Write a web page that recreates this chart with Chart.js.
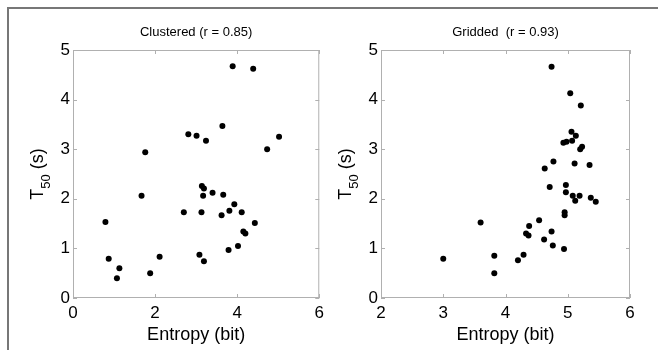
<!DOCTYPE html>
<html>
<head>
<meta charset="utf-8">
<script src="https://cdn.jsdelivr.net/npm/chart.js@4/dist/chart.umd.min.js"></script>
<style>
body { margin: 0; background: #fff; }
#wrap { position: relative; width: 658px; height: 350px; overflow: hidden; }
#frame { position: absolute; left: 7px; top: 7px; width: 700px; height: 400px;
         border-top: 2px solid #777; border-left: 2px solid #777; pointer-events: none; }
canvas { position: absolute; top: 0; }
</style>
</head>
<body>
<div id="wrap">
  <canvas id="clustered" width="329" height="350" style="left:0"></canvas>
  <canvas id="gridded" width="329" height="350" style="left:329px"></canvas>
  <div id="frame"></div>
</div>
<script>
// entropy (bit) vs T50 (s)
const clusteredX = [3.89, 4.39, 1.76, 2.81, 3.01, 3.24, 3.64, 4.73, 5.02,
  0.79, 0.87, 1.07, 1.13, 1.67, 1.88, 2.11, 2.70, 3.08, 3.13, 3.14, 3.19, 3.17,
  3.19, 3.40, 3.66, 3.62, 3.81, 3.93, 3.79, 4.02, 4.11, 4.15, 4.20, 4.43];
const clusteredY = [4.67, 4.62, 2.94, 3.30, 3.27, 3.17, 3.47, 3.00, 3.25,
  1.53, 0.79, 0.40, 0.60, 2.06, 0.50, 0.83, 1.73, 0.87, 1.73, 2.26, 2.21, 2.06,
  0.74, 2.12, 2.08, 1.67, 1.76, 1.89, 0.97, 1.05, 1.73, 1.34, 1.30, 1.51];

const griddedX = [4.74, 5.04, 5.21, 5.06, 5.13, 4.93, 4.98, 5.07, 5.23, 5.20,
  4.63, 4.77, 5.11, 5.35, 4.71, 4.97, 4.97, 5.08, 5.12, 5.19, 5.37, 5.45,
  4.95, 4.95, 4.54, 4.38, 4.33, 4.37, 4.74, 4.62, 4.76, 4.94, 4.29, 4.20,
  3.00, 3.60, 3.82, 3.82];
const griddedY = [4.66, 4.13, 3.88, 3.35, 3.27, 3.13, 3.15, 3.17, 3.05, 3.00,
  2.61, 2.75, 2.71, 2.68, 2.24, 2.28, 2.13, 2.06, 1.96, 2.06, 2.02, 1.94,
  1.73, 1.67, 1.57, 1.45, 1.30, 1.26, 1.34, 1.18, 1.06, 0.99, 0.87, 0.76,
  0.79, 1.52, 0.85, 0.50];

const titles = ['Clustered (r = 0.85)', 'Gridded  (r = 0.93)'];
const xTitle = 'Entropy (bit)';

const FONT = '"Liberation Sans", Arial, Helvetica, sans-serif';

function toPoints(xs, ys) {
  return xs.map((v, i) => ({ x: v, y: ys[i] }));
}

// box round the plot area with small inward ticks, like matlab
const boxPlugin = {
  id: 'boxTicks',
  afterDraw(chart) {
    const { ctx, chartArea: a, scales } = chart;
    const len = 4;
    ctx.save();
    ctx.strokeStyle = '#b0b0b0';
    ctx.lineWidth = 1;
    ctx.strokeRect(a.left + 0.5, a.top + 0.5, a.width - 1, a.height - 1);
    ctx.beginPath();
    scales.x.ticks.forEach(t => {
      const px = Math.round(scales.x.getPixelForValue(t.value)) + 0.5;
      ctx.moveTo(px, a.bottom); ctx.lineTo(px, a.bottom - len);
      ctx.moveTo(px, a.top); ctx.lineTo(px, a.top + len);
    });
    scales.y.ticks.forEach(t => {
      const py = Math.round(scales.y.getPixelForValue(t.value)) + 0.5;
      ctx.moveTo(a.left, py); ctx.lineTo(a.left + len, py);
      ctx.moveTo(a.right, py); ctx.lineTo(a.right - len, py);
    });
    ctx.stroke();
    ctx.restore();
  }
};

// plot title, centred over the plot area rather than the canvas
const plotTitlePlugin = {
  id: 'plotTitle',
  afterDraw(chart, args, opts) {
    const { ctx, chartArea: a } = chart;
    ctx.save();
    ctx.fillStyle = '#000';
    ctx.font = '13px ' + FONT;
    ctx.textAlign = 'center';
    ctx.textBaseline = 'middle';
    ctx.fillText(opts.text, (a.left + a.right) / 2, 32);
    ctx.restore();
  }
};

// y title with the subscript "50"
const yTitlePlugin = {
  id: 'yTitle',
  afterDraw(chart, args, opts) {
    const ctx = chart.ctx;
    const a = chart.chartArea;
    const cx = opts.x;
    const cy = (a.top + a.bottom) / 2;
    const big = '18px ' + FONT;
    const small = '13px ' + FONT;
    ctx.save();
    ctx.translate(cx, cy);
    ctx.rotate(-Math.PI / 2);
    ctx.fillStyle = '#000';
    ctx.textBaseline = 'alphabetic';
    ctx.font = big;
    const wT = ctx.measureText('T').width;
    const wS = ctx.measureText(' (s)').width;
    ctx.font = small;
    const w50 = ctx.measureText('50').width;
    const x0 = -(wT + w50 + wS) / 2;
    ctx.font = big;
    ctx.fillText('T', x0, 6);
    ctx.font = small;
    ctx.fillText('50', x0 + wT, 13);
    ctx.font = big;
    ctx.fillText(' (s)', x0 + wT + w50, 6);
    ctx.restore();
  }
};

function makeChart(id, pts, title, xMin, xStep, axisW, padRight, titleX) {
  return new Chart(document.getElementById(id), {
    type: 'scatter',
    data: {
      datasets: [{
        data: pts,
        backgroundColor: '#000',
        borderWidth: 0,
        pointRadius: 3,
        pointHoverRadius: 3
      }]
    },
    options: {
      responsive: false,
      animation: false,
      layout: { padding: { left: 0, right: padRight, top: 50, bottom: 0 } },
      plugins: {
        legend: { display: false },
        tooltip: { enabled: false },
        title: { display: false },
        plotTitle: { text: title },
        yTitle: { x: titleX }
      },
      scales: {
        x: {
          type: 'linear',
          min: xMin, max: 6,
          grid: { display: false, drawTicks: false },
          border: { display: false },
          ticks: { stepSize: xStep, color: '#000', padding: 5,
                   font: { family: FONT, size: 17 } },
          title: { display: true, text: xTitle, color: '#000',
                   font: { family: FONT, size: 18 }, padding: { top: 0, bottom: 4 } },
          afterFit(scale) { scale.height = 52; }
        },
        y: {
          min: 0, max: 5,
          grid: { display: false, drawTicks: false },
          border: { display: false },
          ticks: { stepSize: 1, color: '#000', padding: 3,
                   font: { family: FONT, size: 17 } },
          afterFit(scale) { scale.width = axisW; }
        }
      }
    },
    plugins: [boxPlugin, plotTitlePlugin, yTitlePlugin]
  });
}

makeChart('clustered', toPoints(clusteredX, clusteredY), titles[0], 0, 2, 73, 7, 37);
makeChart('gridded', toPoints(griddedX, griddedY), titles[1], 2, 1, 52, 28, 16);
</script>
</body>
</html>
